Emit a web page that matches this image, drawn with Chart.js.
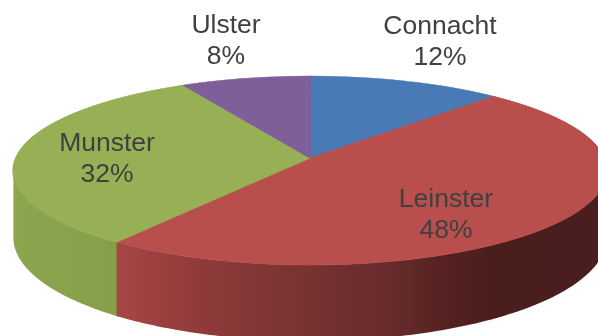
<!DOCTYPE html>
<html>
<head>
<meta charset="utf-8">
<style>
  html, body { margin: 0; padding: 0; background: #fff; overflow: hidden; }
  canvas { display: block; filter: blur(0.4px); }
</style>
<script src="https://cdn.jsdelivr.net/npm/chart.js@4"></script>
</head>
<body>
<canvas id="chart" width="598" height="336"></canvas>
<script>
var regions = ['Connacht', 'Leinster', 'Munster', 'Ulster'];
var shares = [12, 48, 32, 8];

var topColors = ['#4a7ab5', '#b84f4c', '#97b055', '#7f5f9a'];

// wall shading, left to right across the canvas
var wallStops = [
  [[0, '#3f658f']],
  [[0.19, '#a84745'], [0.33, '#8f3b3a'], [0.5, '#7a3333'], [0.67, '#642a2a'], [0.76, '#52201f'], [0.82, '#4b1e1e'], [1, '#4a1e1e']],
  [[0, '#8ba64e'], [0.19, '#86a04a']],
  [[0, '#65497c']]
];

// perspective of the pie top, fitted to the picture
var apexX = 310;
var apexY = 158;
var spanY = 92.8;
var spanX = 294;
var tilt = -0.132;
var wallDepth = 66;

var labelSpots = [
  { x: 440, y: 27 },
  { x: 446, y: 200 },
  { x: 107, y: 144 },
  { x: 226, y: 26 }
];

function project(angle) {
  var u = Math.cos(angle);
  var v = Math.sin(angle);
  var w = 1 + tilt * v;
  return { x: apexX + spanX * u / w, y: apexY + spanY * v / w, depth: wallDepth / w };
}

// only the part between the left and right silhouette points of the rim is seen
function drawWall(ctx, arc, index) {
  var edge = Math.asin(-tilt);
  // small overlap under the neighbouring wall so no light seam shows
  var from = Math.max(arc.startAngle - 0.01, edge);
  var to = Math.min(arc.endAngle, Math.PI - edge);
  if (to <= from) return;

  var steps = 120;
  var pts = [];
  for (var i = 0; i <= steps; i++) {
    pts.push(project(from + (to - from) * i / steps));
  }
  var grad = ctx.createLinearGradient(0, 0, ctx.canvas.width, 0);
  wallStops[index].forEach(function (stop) {
    grad.addColorStop(stop[0], stop[1]);
  });
  ctx.fillStyle = grad;
  ctx.beginPath();
  pts.forEach(function (p, i) {
    if (i === 0) ctx.moveTo(p.x, p.y);
    else ctx.lineTo(p.x, p.y);
  });
  for (var j = pts.length - 1; j >= 0; j--) {
    ctx.lineTo(pts[j].x, pts[j].y + pts[j].depth);
  }
  ctx.closePath();
  ctx.fill();
}

// row by row, so each pixel row of the library's arcs gets its own perspective scale
function rowToV(y) {
  var t = y - apexY;
  return t / (spanY - tilt * t);
}

var perspectivePie = {
  id: 'perspectivePie',
  beforeDatasetsDraw: function (chart) {
    var ctx = chart.ctx;
    var arcs = chart.getDatasetMeta(0).data;

    for (var k = arcs.length - 1; k >= 0; k--) {
      drawWall(ctx, arcs[k], k);
    }

    var r = arcs[0].outerRadius;
    for (var y = 70; y < 272; y++) {
      var v1 = rowToV(y);
      var v2 = rowToV(y + 1);
      var sx = spanX / (1 + tilt * (v1 + v2) / 2) / r;
      var sy = 1 / ((v2 - v1) * r);
      ctx.save();
      ctx.beginPath();
      ctx.rect(0, y, chart.width, 1);
      ctx.clip();
      ctx.transform(sx, 0, 0, sy, apexX - arcs[0].x * sx, y - (arcs[0].y + v1 * r) * sy);
      arcs.forEach(function (arc) {
        arc.draw(ctx);
      });
      ctx.restore();
    }
    return false;
  },
  afterDraw: function (chart) {
    var ctx = chart.ctx;
    ctx.save();
    ctx.fillStyle = '#404040';
    ctx.font = '26.5px "Liberation Sans"';
    ctx.textAlign = 'center';
    ctx.textBaseline = 'middle';
    regions.forEach(function (name, i) {
      ctx.fillText(name, labelSpots[i].x, labelSpots[i].y);
      ctx.fillText(shares[i] + '%', labelSpots[i].x, labelSpots[i].y + 31);
    });
    ctx.restore();
  }
};

new Chart(document.getElementById('chart'), {
  type: 'pie',
  data: {
    labels: regions,
    datasets: [{
      data: shares,
      backgroundColor: topColors,
      borderColor: topColors,
      borderWidth: 1
    }]
  },
  options: {
    responsive: false,
    animation: false,
    events: [],
    layout: { padding: 0 },
    plugins: {
      legend: { display: false },
      tooltip: { enabled: false }
    }
  },
  plugins: [perspectivePie]
});
</script>
</body>
</html>
